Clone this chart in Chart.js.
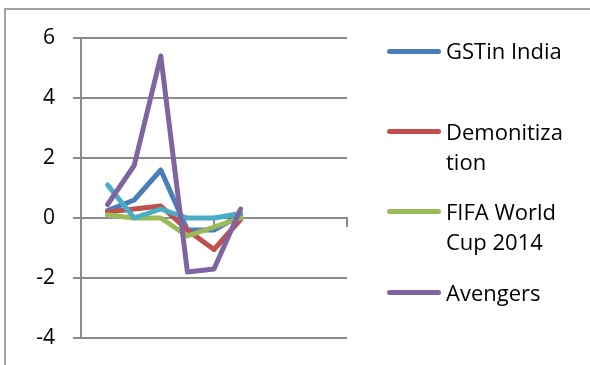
<!DOCTYPE html>
<html>
<head>
<meta charset="utf-8">
<script src="https://cdn.jsdelivr.net/npm/chart.js@4/dist/chart.umd.min.js"></script>
<style>
  html, body { margin: 0; padding: 0; background: #fff; }
  body { width: 590px; height: 365px; position: relative; overflow: hidden; font-family: "Open Sans", sans-serif; }
  #frame { position: absolute; left: 4px; top: 8px; width: 700px; height: 500px;
           border-left: 2px solid #a3a3a3; border-top: 2px solid #a3a3a3; }
  #wrap { position: absolute; left: 0; top: 0; width: 360px; height: 365px; }
  #legend { position: absolute; left: 0; top: 0; width: 590px; height: 365px; }
  .item { position: absolute; left: 387px; }
  .swatch { position: absolute; left: 0; width: 54px; height: 5px; border-radius: 3px; }
  .name { position: absolute; left: 59px; width: 124px; font-size: 22px; line-height: 30px;
          color: #000; overflow-wrap: anywhere; }
</style>
</head>
<body>
<div id="frame"></div>
<div id="wrap"><canvas id="chart" width="360" height="365"></canvas></div>
<div id="legend"></div>
<script>
// Eleven category slots along x; only slots 1-6 carry values.
const categories = ['', '', '', '', '', '', '', '', '', '', ''];

const seriesNames = ['GSTin India', 'Demonitization', 'FIFA World Cup 2014', 'Avengers', 'Series5'];

const gstValues      = [null, 0.25, 0.6, 1.6, -0.4, -0.4, 0.1, null, null, null, null];
const demonetValues  = [null, 0.2, 0.3, 0.4, -0.4, -1.05, -0.05, null, null, null, null];
const fifaValues     = [null, 0.1, 0.0, 0.0, -0.6, -0.3, 0.0, null, null, null, null];
const avengersValues = [null, 0.45, 1.75, 5.4, -1.8, -1.7, 0.3, null, null, null, null];
const series5Values  = [null, 1.1, 0.0, 0.3, 0.0, 0.0, 0.15, null, null, null, null];

const yTicks = [-4, -2, 0, 2, 4, 6];

const colors = ['#4a7ebb', '#c0504d', '#9bbb59', '#8064a2', '#4bacc6'];
const drawOrder = [5, 4, 3, 1, 2];   // higher weight is painted first
const inLegend = [true, true, true, true, false];

const allValues = [gstValues, demonetValues, fifaValues, avengersValues, series5Values];

const gridColor = '#8c8c8c';

const datasets = allValues.map((vals, i) => ({
  label: seriesNames[i],
  data: vals,
  borderColor: colors[i],
  backgroundColor: colors[i],
  borderWidth: 5,
  pointRadius: 0,
  pointHoverRadius: 0,
  tension: 0,
  spanGaps: false,
  borderJoinStyle: 'round',
  borderCapStyle: 'round',
  order: drawOrder[i]
}));

new Chart(document.getElementById('chart'), {
  type: 'line',
  data: { labels: categories, datasets },
  options: {
    responsive: false,
    animation: false,
    events: [],
    layout: { padding: { left: 0, top: 38, right: 13, bottom: 27 } },
    plugins: { legend: { display: false }, tooltip: { enabled: false } },
    scales: {
      y: {
        min: -4, max: 6,
        afterFit: s => { s.width = 81; s.paddingTop = 0; s.paddingBottom = 0; },
        afterBuildTicks: s => { s.ticks = yTicks.map(v => ({ value: v })); },
        ticks: {
          padding: 18,
          color: '#000',
          font: { family: 'Open Sans', size: 21 }
        },
        grid: { color: gridColor, lineWidth: 2, drawTicks: true, tickLength: 8 },
        border: { display: true, color: gridColor, width: 2 }
      },
      x: {
        type: 'category',
        offset: false,
        position: { y: 0 },
        afterFit: s => { s.height = 0; s.paddingLeft = 0; s.paddingRight = 0; },
        ticks: { display: false },
        grid: {
          drawOnChartArea: false,
          drawTicks: true,
          tickLength: 8,
          lineWidth: 2,
          color: c => (c.index % 5 === 0 ? gridColor : 'rgba(0,0,0,0)')
        },
        border: { display: true, color: gridColor, width: 2 }
      }
    }
  }
});

// Legend: entries stacked on the right, names wrap inside a narrow column.
const legend = document.getElementById('legend');
let slot = 0;
seriesNames.forEach((name, i) => {
  if (!inLegend[i]) return;
  const cy = 51 + 80.4 * slot;
  const item = document.createElement('div');
  item.className = 'item';
  item.style.top = cy + 'px';
  const sw = document.createElement('div');
  sw.className = 'swatch';
  sw.style.top = '-2.5px';
  sw.style.background = colors[i];
  const tx = document.createElement('div');
  tx.className = 'name';
  tx.style.top = '-15.7px';
  tx.textContent = name;
  item.appendChild(sw);
  item.appendChild(tx);
  legend.appendChild(item);
  slot++;
});
</script>
</body>
</html>
